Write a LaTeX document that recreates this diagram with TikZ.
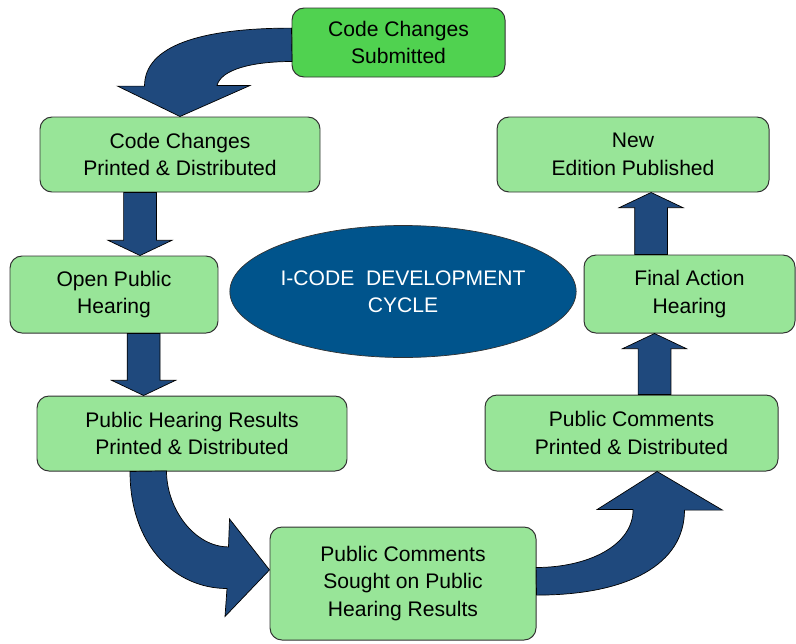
\documentclass[tikz,border=0pt]{standalone}
\usepackage{fontspec}
\setmainfont{Liberation Sans}
\usepackage{tikz}
\usetikzlibrary{shapes.geometric,calc}
\definecolor{icblue}{RGB}{31,73,125}
\definecolor{icoval}{RGB}{0,84,140}
\definecolor{icgreen}{RGB}{152,229,152}
\definecolor{icdarkgreen}{RGB}{80,210,80}
\definecolor{icedge}{RGB}{50,50,50}
\tikzstyle{stepbox} = [rectangle, rounded corners=0.3cm, text centered, align=center, draw=icedge, fill=icgreen, line width=0.7pt, inner sep=0pt, font=\fontsize{15}{19.5}\selectfont]
\tikzstyle{cycleoval} = [ellipse, align=center, draw=icedge, fill=icoval, text=white, line width=0.5pt, inner sep=0pt, font=\fontsize{15}{19.5}\selectfont]
\tikzstyle{blockarrow} = [fill=icblue, draw=black, line width=0.5pt, line join=miter]
\newcommand{\shaftw}{0.41cm}
\newcommand{\headw}{0.8cm}
\newcommand{\headl}{0.38cm}
% straight block arrow: start anchor, end anchor, x shift, + (down) or - (up)
\newcommand{\straightblock}[4]{%
  \filldraw[blockarrow] let \p1=([xshift=#3]#1), \p2=(#2) in
    (\x1-\shaftw,\y1) -- (\x1-\shaftw,\y2#4\headl) -- (\x1-\headw,\y2#4\headl) -- (\x1,\y2)
    -- (\x1+\headw,\y2#4\headl) -- (\x1+\shaftw,\y2#4\headl) -- (\x1+\shaftw,\y1) -- cycle;}

\begin{document}
\begin{tikzpicture}
    \useasboundingbox (0,0) rectangle (19.9,-16.075);

    % steps
    \node[stepbox, fill=icdarkgreen, minimum width=5.325cm, minimum height=1.725cm] (sub) at (9.9625,-1.0625) {Code Changes\\Submitted};
    \node[stepbox, minimum width=7cm, minimum height=1.875cm] (prt) at (4.5,-3.8625) {Code Changes\\Printed \& Distributed};
    \node[stepbox, minimum width=5.2cm, minimum height=1.925cm] (oph) at (2.85,-7.3625) {Open Public\\Hearing};
    \node[stepbox, minimum width=7.75cm, minimum height=1.875cm] (phr) at (4.8,-10.8375) {Public Hearing Results\\Printed \& Distributed};
    \node[stepbox, minimum width=6.65cm, minimum height=2.825cm] (pcs) at (10.075,-14.5875) {Public Comments\\Sought on Public\\Hearing Results};
    \node[stepbox, minimum width=7.325cm, minimum height=1.9cm] (pcp) at (15.7875,-10.825) {Public Comments\\Printed \& Distributed};
    \node[stepbox, minimum width=5.275cm, minimum height=1.95cm] (fah) at (17.2375,-7.35) {Final Action\\Hearing};
    \node[stepbox, minimum width=6.8cm, minimum height=1.875cm] (nep) at (15.825,-3.8625) {New\\Edition Published};

    % centre
    \node[cycleoval, minimum width=8.45cm, minimum height=3.3cm] (cyc) at (10.075,-7.2875) {I-CODE\ \ DEVELOPMENT\\CYCLE};

    % curved arrows
    \filldraw[blockarrow] ([yshift=0.36cm]sub.west) .. controls +(-2.3,0) and +(0,1.0) .. ++(-3.675,-1.45)
        -- ++(-0.675,0) -- (prt.north) -- ++(1.75,0.775) -- ++(-0.825,0)
        .. controls +(0.1,0.4) and +(-1.0,0) .. ++(1.875,0.6) -- cycle;
    \filldraw[blockarrow] ([xshift=-1.55cm]phr.south) .. controls +(0,-1.85) and +(-1.3,0) .. ++(2.425,-2.925)
        -- ++(-0.05,-0.7) -- ([yshift=0.34cm]pcs.west) -- ++(-1.0,1.275) -- ++(-0.025,-0.7)
        .. controls +(-0.85,0) and +(0,-0.95) .. ++(-1.55,1.9) -- cycle;
    \filldraw[blockarrow] ([yshift=-0.29cm]pcs.east) .. controls +(2.3,0) and +(0,-1.35) .. ++(3.7,2.125)
        -- ++(0.95,0) -- ([xshift=0.64cm]pcp.south) -- ++(-1.5,-0.95) -- ++(0.9,0)
        .. controls +(0,-0.9) and +(1.3,0) .. ++(-2.425,-1.45) -- cycle;

    % straight arrows
    \straightblock{prt.south}{oph.north}{-1cm}{+}
    \straightblock{oph.south}{phr.north}{0.74cm}{+}
    \straightblock{pcp.north}{fah.south}{0.575cm}{-}
    \straightblock{fah.north}{nep.south}{-0.96cm}{-}
\end{tikzpicture}
\end{document}
